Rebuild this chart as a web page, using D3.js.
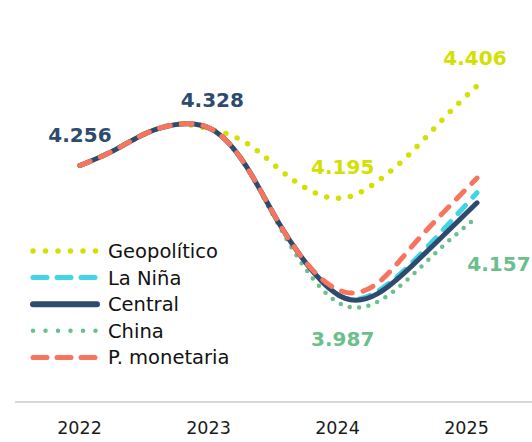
<!DOCTYPE html>
<html><head><meta charset="utf-8">
<script src="https://cdn.jsdelivr.net/npm/d3@7"></script>
<style>body{margin:0;background:#fff}svg{display:block}</style>
</head><body>
<script>
// ---- data ----
const yearLabels = ["2022", "2023", "2024", "2025"];
const t = [2022, 2022.25, 2022.5, 2022.75, 2023, 2023.25, 2023.5, 2023.75, 2024, 2024.25, 2024.5, 2024.75, 2025];
const central     = [4.269, 4.298, 4.333, 4.351, 4.340, 4.270, 4.156, 4.062, 4.006, 4.015, 4.068, 4.131, 4.195];
const geopolitico = [4.269, 4.298, 4.333, 4.351, 4.340, 4.315, 4.263, 4.218, 4.205, 4.238, 4.294, 4.363, 4.427];
const china       = [4.269, 4.298, 4.333, 4.351, 4.340, 4.268, 4.151, 4.048, 3.991, 3.999, 4.049, 4.111, 4.167];
const laNina      = [4.269, 4.298, 4.333, 4.351, 4.340, 4.270, 4.156, 4.062, 4.006, 4.020, 4.074, 4.143, 4.215];
const pMonetaria  = [4.269, 4.298, 4.333, 4.351, 4.340, 4.270, 4.156, 4.064, 4.018, 4.036, 4.106, 4.177, 4.244];
const seriesNames = ["Geopolítico", "La Niña", "Central", "China", "P. monetaria"];
const labelTexts  = ["4.256", "4.328", "4.195", "4.406", "3.987", "4.157"];

// ---- styles ----
const styles = {
  "Geopolítico":  {color:"#d3e000", w:5.5, dash:"0 12", legDash:"0 12.5", data: geopolitico},
  "China":        {color:"#6cbf8c", w:4.5, dash:"0 9.5", legDash:"0 12.5", data: china},
  "La Niña":      {color:"#44d4e8", w:5, dash:"11 11", legDash:"14 10", data: laNina},
  "Central":      {color:"#2e4b6d", w:5, dash:null, legDash:null, data: central},
  "P. monetaria": {color:"#f7745f", w:5, dash:"11 11", legDash:"14 10", data: pMonetaria}
};
const drawOrder = ["Geopolítico", "China", "La Niña", "Central", "P. monetaria"];

const W = 532, H = 442;
const svg = d3.select("body").append("svg").attr("width", W).attr("height", H);

const x = d3.scaleLinear().domain([2022, 2025]).range([80, 477]);
const y = d3.scaleLinear().domain([3.8, 4.5]).range([402, 49]);
const xBand = d3.scaleBand().domain(yearLabels).range([15, 531]);

// axis
const axis = svg.append("g").attr("transform", "translate(0,402)")
  .call(d3.axisBottom(xBand).tickSize(0).tickPadding(20));
axis.select(".domain").attr("stroke", "#d9d9d9").attr("stroke-width", 2).attr("d", "M15,0H532");
axis.selectAll("text").attr("font-family", "DejaVu Sans").attr("font-size", 17.5).attr("fill", "#1a1a1a");

const line = d3.line().x((d, i) => x(t[i])).y(d => y(d)).curve(d3.curveNatural);

drawOrder.forEach(name => {
  const s = styles[name];
  svg.append("path").datum(s.data).attr("d", line)
    .attr("fill", "none").attr("stroke", s.color).attr("stroke-width", s.w)
    .attr("stroke-linecap", "round").attr("stroke-linejoin", "round")
    .attr("stroke-dasharray", s.dash);
});

// value labels
const labels = [
  {txt: labelTexts[0], tx: 2022, v: central[0], dy: -23, dx: 0, c: "#2e4b6d"},
  {txt: labelTexts[1], tx: 2023, v: central[4], dy: -23, dx: 0, c: "#2e4b6d"},
  {txt: labelTexts[2], tx: 2024, v: geopolitico[8], dy: -24, dx: -2, c: "#d3e000"},
  {txt: labelTexts[3], tx: 2025, v: geopolitico[12], dy: -21, dx: -2, c: "#d3e000"},
  {txt: labelTexts[4], tx: 2024, v: china[8], dy: 40, dx: -2, c: "#6cbf8c"},
  {txt: labelTexts[5], tx: 2025, v: china[12], dy: 54, dx: 22, c: "#6cbf8c"}
];
svg.selectAll(".vl").data(labels).enter().append("text")
  .attr("x", d => x(d.tx) + d.dx).attr("y", d => y(d.v) + d.dy)
  .attr("text-anchor", "middle").attr("font-family", "DejaVu Sans").attr("font-weight", "bold")
  .attr("font-size", 20).attr("fill", d => d.c).text(d => d.txt);

// legend
const lg = svg.append("g");
seriesNames.forEach((name, i) => {
  const s = styles[name];
  const yy = 251 + i * 26.6;
  lg.append("line").attr("x1", 33).attr("x2", 97).attr("y1", yy).attr("y2", yy)
    .attr("stroke", s.color).attr("stroke-width", name === "Central" ? 6 : s.w)
    .attr("stroke-linecap", "round").attr("stroke-dasharray", s.legDash);
  lg.append("text").attr("x", 108).attr("y", yy).attr("dy", "0.36em")
    .attr("font-family", "DejaVu Sans").attr("font-size", 19.5).attr("fill", "#111").text(name);
});
</script>
</body></html>
